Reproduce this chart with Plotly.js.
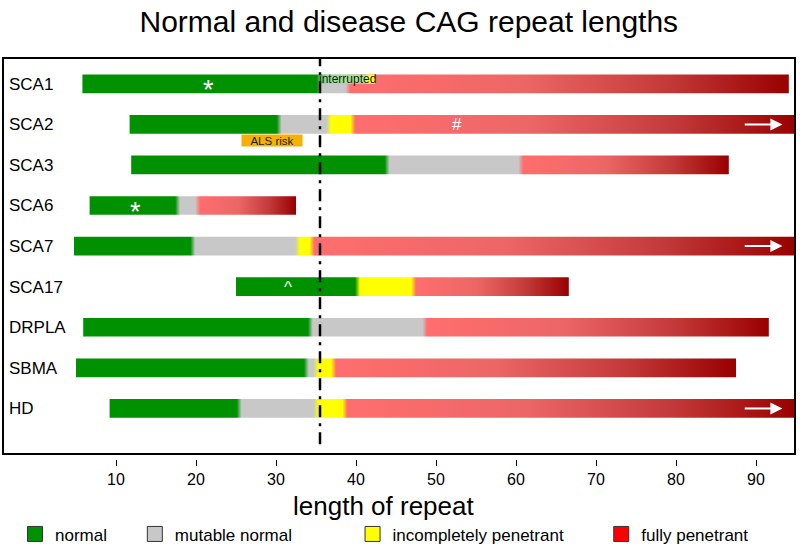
<!DOCTYPE html>
<html><head><meta charset="utf-8">
<script src="https://cdn.plot.ly/plotly-3.0.1.min.js"></script>
<style>html,body{margin:0;padding:0;background:#fff}#chart{width:800px;height:555px}</style>
</head><body><div id="chart"></div>
<script>
// ---------- data (CAG repeat lengths) ----------
const genes         = ['SCA1','SCA2','SCA3','SCA6','SCA7','SCA17','DRPLA','SBMA','HD'];
const barStart      = [5.8, 11.7, 11.9, 6.7, 4.75, 25.0, 5.9, 5.0, 9.2];
const normalEnd     = [35.4, 30.4, 43.9, 17.7, 19.6, 40.2, 34.3, 33.8, 25.4];
const mutableEnd    = [39.0, 36.6, 60.6, 20.2, 32.7, 40.2, 48.6, 35.0, 35.0];
const incompleteEnd = [39.0, 39.6, 60.6, 20.2, 34.5, 47.2, 48.6, 37.2, 38.6];
const barEnd        = [94.1, 95, 86.6, 32.5, 95, 66.6, 91.6, 87.5, 95];
const openEnded     = [false, true, false, false, true, false, false, false, true];
const threshold     = 35.5;
const xTicks        = [10, 20, 30, 40, 50, 60, 70, 80, 90];
const interruptedGene  = 'SCA1';
const interruptedRange = [35.5, 42.4];
const alsGene  = 'SCA2';
const alsRange = [25.8, 33.3];
const noteGenes = ['SCA1', 'SCA6', 'SCA2', 'SCA17'];
const noteX     = [21.5, 12.4, 52.6, 31.5];
const noteText  = ['*', '*', '#', '^'];
const arrowFrom = 88.4, arrowTo = 93.3;
const categories = ['normal', 'mutable normal', 'incompletely penetrant', 'fully penetrant'];

// ---------- style ----------
const F = 'Liberation Sans, Arial, Helvetica, sans-serif';
const GREEN = '#009100', GREY = '#c8c8c8', YELLOW = '#ffff00';
const RED_STOPS = [[0, '#ff6e6e'], [0.4, '#ec6666'], [0.72, '#c43a3a'], [1, '#990000']];
const catColors = [GREEN, GREY, YELLOW, '#ff0000'];
const H = 0.23, BLUR = 0.6;

function rowScale(i) {
  const s = barStart[i], e = barEnd[i], L = e - s;
  const segs = [{a: s, b: normalEnd[i], c: GREEN}];
  if (mutableEnd[i] > normalEnd[i]) segs.push({a: normalEnd[i], b: mutableEnd[i], c: GREY});
  if (incompleteEnd[i] > mutableEnd[i]) segs.push({a: mutableEnd[i], b: incompleteEnd[i], c: YELLOW});
  segs.push({a: incompleteEnd[i], b: e, c: 'red'});
  const pts = [];
  segs.forEach((sg, k) => {
    const a = k === 0 ? sg.a : sg.a + BLUR / 2;
    const b = k === segs.length - 1 ? sg.b : sg.b - BLUR / 2;
    if (sg.c === 'red') {
      RED_STOPS.forEach(([p, c]) => pts.push([a + p * (b - a), c]));
    } else {
      pts.push([a, sg.c]); pts.push([b, sg.c]);
    }
  });
  const cs = [];
  let last = -1;
  pts.forEach(([x, c]) => {
    let p = Math.min(1, Math.max(0, (x - s) / L));
    if (p <= last) p = Math.min(1, last + 1e-4);
    last = p;
    cs.push([p, c]);
  });
  cs[cs.length - 1][0] = 1;
  cs[0][0] = 0;
  return cs;
}

const traces = [];
genes.forEach((g, i) => {
  const s = barStart[i], e = barEnd[i];
  traces.push({
    type: 'scatter', mode: 'none', fill: 'toself',
    x: [s, e, e, s, s], y: [i - H, i - H, i + H, i + H, i - H],
    fillgradient: {type: 'horizontal', start: s, stop: e, colorscale: rowScale(i)},
    showlegend: false, hoverinfo: 'skip'
  });
});
// interrupted alleles (upper half of SCA1 bar)
const ri = genes.indexOf(interruptedGene);
traces.push({
  type: 'scatter', mode: 'none', fill: 'toself',
  x: [interruptedRange[0], interruptedRange[1], interruptedRange[1], interruptedRange[0], interruptedRange[0]],
  y: [ri - H, ri - H, ri, ri, ri - H],
  fillgradient: {type: 'horizontal', start: interruptedRange[0], stop: interruptedRange[1],
    colorscale: [[0, '#5cc25c'], [0.12, '#8fe08f'], [0.82, '#a8e890'], [0.87, '#ffff30'], [1, '#ffff00']]},
  showlegend: false, hoverinfo: 'skip'
});
// legend entries
const legendIds = ['legend', 'legend2', 'legend3', 'legend4'];
categories.forEach((c, k) => {
  traces.push({
    type: 'scatter', mode: 'markers', x: [null], y: [null], name: c, legend: legendIds[k],
    marker: {symbol: 'square', size: 15, color: catColors[k], line: {color: '#333', width: 1}},
    hoverinfo: 'skip'
  });
});

const annotations = [];
noteGenes.forEach((g, k) => {
  annotations.push({
    xref: 'x', yref: 'y', x: noteX[k], y: genes.indexOf(g), text: noteText[k], showarrow: false,
    font: {family: F, size: noteText[k] === '*' ? 27 : 17, color: '#fff'},
    yshift: noteText[k] === '*' ? -6 : (noteText[k] === '^' ? -1 : 0)
  });
});
genes.forEach((g, i) => {
  if (openEnded[i]) annotations.push({
    xref: 'x', yref: 'y', axref: 'x', ayref: 'y', x: arrowTo, y: i, ax: arrowFrom, ay: i,
    text: '', showarrow: true, arrowhead: 2, arrowsize: 1.2, arrowwidth: 2, arrowcolor: '#fff'
  });
});
annotations.push({
  xref: 'x', yref: 'y', x: (interruptedRange[0] + interruptedRange[1]) / 2, y: ri - H / 2,
  text: 'interrupted', showarrow: false, font: {family: F, size: 12, color: '#1a1a1a'}
});
annotations.push({
  xref: 'x', yref: 'y', x: (alsRange[0] + alsRange[1]) / 2, y: genes.indexOf(alsGene), yshift: -16,
  text: 'ALS risk', showarrow: false, bgcolor: '#f5b000', width: (alsRange[1] - alsRange[0]) * 8, height: 11,
  borderpad: 0, font: {family: F, size: 11.5, color: '#222'}
});
annotations.push({
  xref: 'paper', yref: 'paper', x: 0.4798, y: -0.116, yanchor: 'middle', xanchor: 'center',
  text: 'length of repeat', showarrow: false, font: {family: F, size: 26, color: '#000'}
});

const px = v => (v - 3) / 793;
const legendBase = {orientation: 'h', y: -0.188, yanchor: 'middle', xanchor: 'left',
  font: {family: F, size: 17, color: '#000'}, bgcolor: 'rgba(0,0,0,0)', borderwidth: 0};

const layout = {
  width: 800, height: 555,
  margin: {l: 3, r: 5, t: 58, b: 93, pad: 0},
  paper_bgcolor: '#fff', plot_bgcolor: '#fff',
  title: {text: 'Normal and disease CAG repeat lengths', font: {family: F, size: 30, color: '#000'},
    x: 0.511, xref: 'container', xanchor: 'center', y: 1 - 21 / 555, yref: 'container', yanchor: 'middle'},
  xaxis: {range: [-4.125, 94.875], anchor: 'free', position: 0, showline: false, showgrid: false, zeroline: false,
    ticks: 'outside', ticklen: 6, tickwidth: 1, tickcolor: '#000', tickvals: xTicks,
    tickfont: {family: F, size: 16, color: '#000'}},
  yaxis: {domain: [5 / 404, 1], range: [9.125, -0.636], showline: false, showgrid: false, zeroline: false,
    tickvals: genes.map((g, i) => i), ticktext: genes, ticks: '', ticklabelposition: 'inside',
    ticklabelstandoff: 3, tickfont: {family: F, size: 17, color: '#000'}},
  shapes: [
    {type: 'rect', xref: 'x domain', yref: 'y domain', x0: 0, x1: 1, y0: 0, y1: 1,
      line: {color: '#000', width: 2}, layer: 'above'},
    {type: 'line', xref: 'x', yref: 'y domain', x0: threshold, x1: threshold, y0: 0.025, y1: 1,
      line: {color: '#000', width: 2.5, dash: '12px,6px,3px,6px'}, layer: 'above'}
  ],
  annotations: annotations,
  legend:  Object.assign({}, legendBase, {x: px(15)}),
  legend2: Object.assign({}, legendBase, {x: px(135)}),
  legend3: Object.assign({}, legendBase, {x: px(353)}),
  legend4: Object.assign({}, legendBase, {x: px(602)})
};

Plotly.newPlot('chart', traces, layout, {staticPlot: true});
</script></body></html>
